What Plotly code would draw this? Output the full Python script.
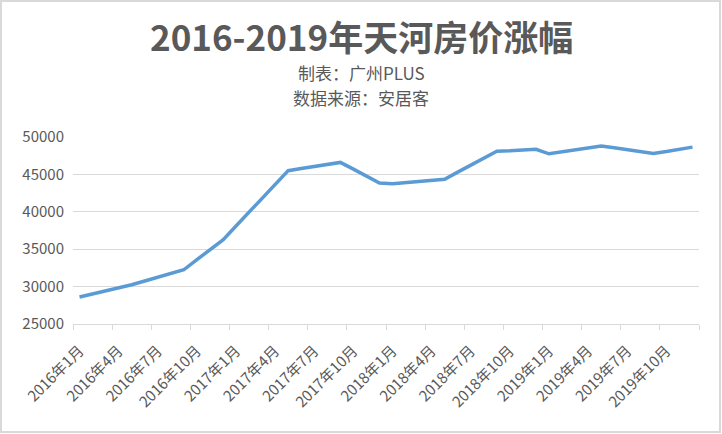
import plotly.graph_objects as go

months = [f"{y}年{m}月" for y in range(2016, 2020) for m in range(1, 13)]
prices = [
    28600, 29000, 29400, 29800, 30250, 30750, 31250, 31750,
    32250, 33600, 34900, 36250, 38100, 39950, 41800, 43650,
    45500, 45800, 46050, 46350, 46600, 45700, 44800, 43850,
    43750, 43900, 44050, 44200, 44350, 45300, 46250, 47150,
    48100, 48150, 48250, 48350, 47750, 48000, 48250, 48500,
    48800, 48550, 48300, 48050, 47800, 48050, 48350, 48650,
]
y_ticks = [25000, 30000, 35000, 40000, 45000, 50000]
title = "2016-2019年天河房价涨幅"
sub1 = "制表：广州PLUS"
sub2 = "数据来源：安居客"

idx = list(range(len(months)))
tick_idx = idx[::3]
tick_text = [months[i] for i in tick_idx]

FONT = "Noto Sans CJK SC"
GRAY = "#595959"

# plot area in pixels
L, R, T, B = 73, 23, 137, 110
W, H = 722, 434
pw, ph = W - L - R, H - T - B

def px_x(px):
    return (px - L) / pw

def px_y(py):
    return (H - B - py) / ph

fig = go.Figure()
fig.add_trace(go.Scatter(
    x=idx, y=prices, mode="lines",
    line=dict(color="#5B9BD5", width=3.5),
    hoverinfo="skip", showlegend=False,
))

fig.update_layout(
    width=W, height=H,
    margin=dict(l=L, r=R, t=T, b=B),
    paper_bgcolor="white", plot_bgcolor="white",
    font=dict(family=FONT, color=GRAY),
    xaxis=dict(
        range=[-0.5, len(months) - 0.5],
        tickmode="array", tickvals=tick_idx, ticktext=tick_text,
        tickangle=-45, ticks="", showgrid=False,
        showline=True, linecolor="#d9d9d9", linewidth=1,
        tickfont=dict(size=15, color=GRAY, family=FONT),
        ticklabelstandoff=11,
        minor=dict(tickmode="linear", tick0=-0.5, dtick=3, ticks="outside",
                   ticklen=5, tickcolor="#d9d9d9", tickwidth=1, showgrid=False),
        zeroline=False, fixedrange=True,
    ),
    yaxis=dict(
        range=[25000, 50000],
        tickmode="array", tickvals=y_ticks, ticktext=[str(v) for v in y_ticks],
        ticks="", showgrid=True, gridcolor="#d9d9d9", gridwidth=1,
        showline=False, zeroline=False,
        tickfont=dict(size=15, color=GRAY, family=FONT),
        ticklabelstandoff=8,
    ),
    annotations=[
        dict(text=f"<b>{title}</b>", xref="paper", yref="paper",
             x=px_x(361), y=px_y(35), xanchor="center", yanchor="middle",
             showarrow=False, borderpad=0,
             font=dict(size=35, color=GRAY, family=FONT)),
        dict(text=sub1, xref="paper", yref="paper",
             x=px_x(361), y=px_y(72.5), xanchor="center", yanchor="middle",
             showarrow=False, borderpad=0,
             font=dict(size=17, color=GRAY, family=FONT)),
        dict(text=sub2, xref="paper", yref="paper",
             x=px_x(361), y=px_y(97.5), xanchor="center", yanchor="middle",
             showarrow=False, borderpad=0,
             font=dict(size=17, color=GRAY, family=FONT)),
    ],
    shapes=[
        dict(type="rect", xref="paper", yref="paper",
             x0=px_x(1), x1=px_x(720), y0=px_y(432), y1=px_y(1),
             line=dict(color="#d9d9d9", width=2), fillcolor="rgba(0,0,0,0)",
             layer="below"),
    ],
)

fig.write_html("out.html")
